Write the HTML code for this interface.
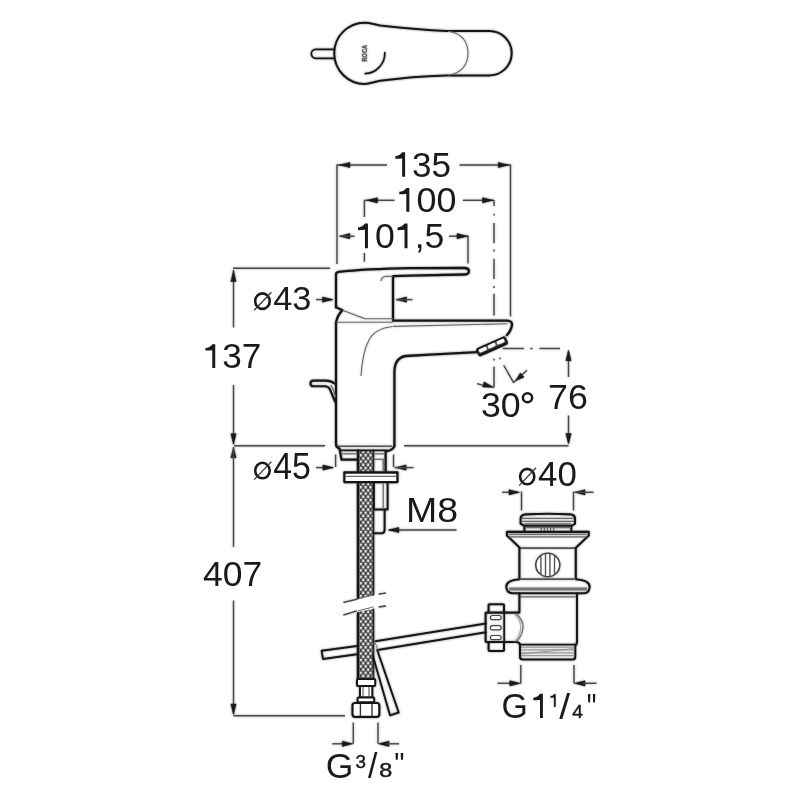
<!DOCTYPE html>
<html><head><meta charset="utf-8"><style>
html,body{margin:0;padding:0;background:#fff;}
svg{display:block;will-change:transform;}
.k{fill:none;stroke:#151515;stroke-width:2.3;stroke-linecap:round;stroke-linejoin:round;}
.d{fill:none;stroke:#484848;stroke-width:1.4;}
.g{fill:none;stroke:#6a6a6a;stroke-width:1.25;}
text{font-family:"Liberation Sans",sans-serif;}
</style></head><body>
<svg width="800" height="800" viewBox="0 0 800 800">
<rect width="800" height="800" fill="#fff"/>
<defs><filter id="halo" x="0" y="0" width="800" height="800" filterUnits="userSpaceOnUse"><feGaussianBlur in="SourceGraphic" stdDeviation="0.9" result="b"/><feComponentTransfer in="b" result="b2"><feFuncA type="linear" slope="0.5"/></feComponentTransfer><feMerge><feMergeNode in="b2"/><feMergeNode in="SourceGraphic"/></feMerge></filter></defs>
<g filter="url(#halo)">
<path d="M334.4,49.3 L315.8,49.3 A4.5,4.5 0 0 0 315.8,58.3 L334.4,58.3" class="k" style="stroke-width:1.7"/>
<path d="M446,31 L489.5,31 A22.2,22.2 0 0 1 489.5,75.4 L446,75.4 C425,76 400,78 380,80.8 C373,82 370,83.9 364.8,83.9 A30.6,30.6 0 0 1 364.8,22.7 C370,22.7 373,24.2 380,25.4 C400,27.6 425,30 446,31 Z" class="k" style="stroke-width:2.0"/>
<path d="M448,31.2 C462,33 468,42 468,53.2 C468,64 462,73.5 448,75.2" class="g" style="stroke-width:1.1"/>
<path d="M384.8,52.6 A20.4,20.4 0 0 1 365.2,73.6" class="k" style="stroke-width:1.7"/>
<text transform="translate(367.3,61.4) rotate(-90)" font-size="8.0" font-weight="bold" fill="#555" stroke="#555" stroke-width="0.35" textLength="16.4" lengthAdjust="spacingAndGlyphs">ROCA</text>
<line x1="337" y1="164.5" x2="337" y2="264" class="d" />
<line x1="510.5" y1="164.5" x2="510.5" y2="316.5" class="d" />
<line x1="337" y1="165" x2="387" y2="165" class="d" />
<line x1="459.5" y1="165" x2="510.5" y2="165" class="d" />
<path d="M339.40,165.00 L349.90,162.40 L349.90,167.60 Z" fill="#1a1a1a" stroke="#1a1a1a" stroke-width="0.6" stroke-linejoin="round"/>
<path d="M508.80,165.00 L498.30,167.60 L498.30,162.40 Z" fill="#1a1a1a" stroke="#1a1a1a" stroke-width="0.6" stroke-linejoin="round"/>
<line x1="364.4" y1="199.9" x2="364.4" y2="217" class="d" />
<line x1="364.4" y1="252.9" x2="364.4" y2="261.6" class="d" />
<line x1="364.5" y1="200.3" x2="394.5" y2="200.3" class="d" />
<line x1="463" y1="200.3" x2="494" y2="200.3" class="d" />
<path d="M366.90,200.30 L377.40,197.70 L377.40,202.90 Z" fill="#1a1a1a" stroke="#1a1a1a" stroke-width="0.6" stroke-linejoin="round"/>
<path d="M493.00,200.30 L482.50,202.90 L482.50,197.70 Z" fill="#1a1a1a" stroke="#1a1a1a" stroke-width="0.6" stroke-linejoin="round"/>
<line x1="494" y1="200" x2="494" y2="206" class="d" />
<line x1="494" y1="213.8" x2="494" y2="215.6" class="d" />
<line x1="494" y1="223.1" x2="494" y2="243.3" class="d" />
<line x1="494" y1="249.6" x2="494" y2="251.6" class="d" />
<line x1="494" y1="258.8" x2="494" y2="279" class="d" />
<line x1="494" y1="286.1" x2="494" y2="288.1" class="d" />
<line x1="494" y1="293.7" x2="494" y2="315.4" class="d" />
<path d="M339.40,236.20 L349.90,233.60 L349.90,238.80 Z" fill="#1a1a1a" stroke="#1a1a1a" stroke-width="0.6" stroke-linejoin="round"/>
<line x1="340" y1="236.2" x2="354.5" y2="236.2" class="d" />
<line x1="449" y1="236.2" x2="468" y2="236.2" class="d" />
<path d="M467.50,236.20 L457.00,238.80 L457.00,233.60 Z" fill="#1a1a1a" stroke="#1a1a1a" stroke-width="0.6" stroke-linejoin="round"/>
<line x1="468" y1="235.6" x2="468" y2="263.5" class="d" />
<line x1="233" y1="268.2" x2="330" y2="268.2" class="d" />
<line x1="233.5" y1="270" x2="233.5" y2="327.5" class="d" />
<path d="M233.50,271.00 L236.10,281.50 L230.90,281.50 Z" fill="#1a1a1a" stroke="#1a1a1a" stroke-width="0.6" stroke-linejoin="round"/>
<line x1="233.5" y1="385" x2="233.5" y2="444" class="d" />
<path d="M233.50,444.30 L230.90,433.80 L236.10,433.80 Z" fill="#1a1a1a" stroke="#1a1a1a" stroke-width="0.6" stroke-linejoin="round"/>
<line x1="234" y1="445.7" x2="325" y2="445.7" class="d" />
<path d="M233.50,447.20 L236.10,457.70 L230.90,457.70 Z" fill="#1a1a1a" stroke="#1a1a1a" stroke-width="0.6" stroke-linejoin="round"/>
<line x1="233.5" y1="447" x2="233.5" y2="547" class="d" />
<line x1="233.5" y1="600.5" x2="233.5" y2="714" class="d" />
<path d="M233.50,714.60 L230.90,704.10 L236.10,704.10 Z" fill="#1a1a1a" stroke="#1a1a1a" stroke-width="0.6" stroke-linejoin="round"/>
<line x1="233.5" y1="715.7" x2="345" y2="715.7" class="d" />
<line x1="316" y1="299.6" x2="332" y2="299.6" class="d" />
<path d="M333.00,299.60 L322.50,302.20 L322.50,297.00 Z" fill="#1a1a1a" stroke="#1a1a1a" stroke-width="0.6" stroke-linejoin="round"/>
<path d="M396.00,299.60 L406.50,297.00 L406.50,302.20 Z" fill="#1a1a1a" stroke="#1a1a1a" stroke-width="0.6" stroke-linejoin="round"/>
<line x1="396" y1="299.6" x2="412.5" y2="299.6" class="d" />
<line x1="316" y1="467.6" x2="333" y2="467.6" class="d" />
<path d="M333.40,467.60 L322.90,470.20 L322.90,465.00 Z" fill="#1a1a1a" stroke="#1a1a1a" stroke-width="0.6" stroke-linejoin="round"/>
<line x1="335.6" y1="454.5" x2="335.6" y2="467" class="d" />
<line x1="393.5" y1="454.5" x2="393.5" y2="467" class="d" />
<path d="M395.60,467.60 L406.10,465.00 L406.10,470.20 Z" fill="#1a1a1a" stroke="#1a1a1a" stroke-width="0.6" stroke-linejoin="round"/>
<line x1="394.5" y1="467.6" x2="413.5" y2="467.6" class="d" />
<line x1="404" y1="445.7" x2="568.5" y2="445.7" class="d" />
<line x1="502.8" y1="348.5" x2="523.9" y2="348.5" class="d" />
<line x1="530.2" y1="348.5" x2="532.6" y2="348.5" class="d" />
<line x1="539.4" y1="348.5" x2="560" y2="348.5" class="d" />
<line x1="568.5" y1="352" x2="568.5" y2="377" class="d" />
<path d="M568.50,350.20 L571.10,360.70 L565.90,360.70 Z" fill="#1a1a1a" stroke="#1a1a1a" stroke-width="0.6" stroke-linejoin="round"/>
<line x1="568.5" y1="415.5" x2="568.5" y2="443" class="d" />
<path d="M568.50,444.00 L565.90,433.50 L571.10,433.50 Z" fill="#1a1a1a" stroke="#1a1a1a" stroke-width="0.6" stroke-linejoin="round"/>
<line x1="494" y1="358.7" x2="494" y2="360.5" class="d" />
<line x1="494" y1="366.6" x2="494" y2="387.4" class="d" />
<line x1="477" y1="383.6" x2="486" y2="386.2" class="d" />
<path d="M493.50,387.30 L482.69,386.99 L484.08,381.98 Z" fill="#1a1a1a" stroke="#1a1a1a" stroke-width="0.6" stroke-linejoin="round"/>
<line x1="499.6" y1="357.6" x2="500.4" y2="359.2" class="d" />
<line x1="503.75" y1="365.25" x2="513.7" y2="382.9" class="d" />
<line x1="513.5" y1="382.5" x2="527" y2="370.3" class="d" />
<path d="M515.80,380.60 L520.38,372.91 L524.05,377.14 Z" fill="#1a1a1a" stroke="#1a1a1a" stroke-width="0.6" stroke-linejoin="round"/>
<line x1="389" y1="530" x2="456.5" y2="530" class="d" />
<path d="M388.30,530.00 L398.80,527.40 L398.80,532.60 Z" fill="#1a1a1a" stroke="#1a1a1a" stroke-width="0.6" stroke-linejoin="round"/>
<line x1="502" y1="492.3" x2="518" y2="492.3" class="d" />
<path d="M519.50,492.30 L509.00,494.90 L509.00,489.70 Z" fill="#1a1a1a" stroke="#1a1a1a" stroke-width="0.6" stroke-linejoin="round"/>
<line x1="521.5" y1="491.5" x2="521.5" y2="510.5" class="d" />
<line x1="573.5" y1="491.5" x2="573.5" y2="510.5" class="d" />
<path d="M574.50,492.30 L585.00,489.70 L585.00,494.90 Z" fill="#1a1a1a" stroke="#1a1a1a" stroke-width="0.6" stroke-linejoin="round"/>
<line x1="575" y1="492.3" x2="593.5" y2="492.3" class="d" />
<line x1="520.8" y1="665" x2="520.8" y2="683.5" class="d" />
<line x1="574" y1="665" x2="574" y2="683.5" class="d" />
<line x1="497.5" y1="683.3" x2="511" y2="683.3" class="d" />
<path d="M520.30,683.30 L509.80,685.90 L509.80,680.70 Z" fill="#1a1a1a" stroke="#1a1a1a" stroke-width="0.6" stroke-linejoin="round"/>
<path d="M574.50,683.30 L585.00,680.70 L585.00,685.90 Z" fill="#1a1a1a" stroke="#1a1a1a" stroke-width="0.6" stroke-linejoin="round"/>
<line x1="583" y1="683.3" x2="596.5" y2="683.3" class="d" />
<line x1="353.3" y1="722.5" x2="353.3" y2="743.8" class="d" />
<line x1="378" y1="722.5" x2="378" y2="743.8" class="d" />
<line x1="332.3" y1="743.8" x2="345" y2="743.8" class="d" />
<path d="M352.80,743.80 L342.30,746.40 L342.30,741.20 Z" fill="#1a1a1a" stroke="#1a1a1a" stroke-width="0.6" stroke-linejoin="round"/>
<path d="M378.50,743.80 L389.00,741.20 L389.00,746.40 Z" fill="#1a1a1a" stroke="#1a1a1a" stroke-width="0.6" stroke-linejoin="round"/>
<line x1="387" y1="743.8" x2="399" y2="743.8" class="d" />
<defs><pattern id="hp" patternUnits="userSpaceOnUse" x="359.5" y="540" width="4.9" height="6.4"><rect width="4.9" height="6.4" fill="#404040"/><rect x="2.6" y="0.3" width="2.2" height="2.6" fill="#f6f6f6"/><rect x="0.15" y="3.5" width="2.2" height="2.6" fill="#f6f6f6"/></pattern></defs>
<path d="M357.8,450.5 L373.8,450.5 L373.8,594.9 L357.8,598.9 Z" fill="url(#hp)"/>
<path d="M357.8,610.8 L373.8,606.9 L373.8,679 L357.8,679 Z" fill="url(#hp)"/>
<line x1="358" y1="450.5" x2="358" y2="598.9" class="k" style="stroke-width:2.4"/>
<line x1="373.4" y1="450.5" x2="373.4" y2="595" class="k" style="stroke-width:1.9;stroke:#2a2a2a"/>
<line x1="358" y1="610.8" x2="358" y2="679" class="k" style="stroke-width:2.4"/>
<line x1="373.4" y1="606.9" x2="373.4" y2="679" class="k" style="stroke-width:1.9;stroke:#2a2a2a"/>
<path d="M357,646 L321.6,650.8 L323,659 L357,654.2" class="k" style="stroke-width:1.9"/>
<path d="M375.5,641.2 L486,623.5 M377.5,650 L486,632.3" class="k" style="stroke-width:1.9"/>
<path d="M372.9,656 L390,715.3 L398.7,712.5 L377.3,650.3" class="k" style="stroke-width:1.9"/>
<path d="M374.5,642.5 Q378,646 377.2,650.5" class="g" style="stroke-width:1"/>
<path d="M340,603.3 L390,592.2 L390,605 L340,616 Z" fill="#fff"/>
<path d="M343.3,602.5 L357,599.2" class="d" style="stroke-width:1.6"/>
<path d="M378.5,594.3 L386,593" class="d" style="stroke-width:1.6"/>
<path d="M343.3,615 L357,610.8" class="d" style="stroke-width:1.6"/>
<path d="M378.5,607 L386,605.9" class="d" style="stroke-width:1.6"/>
<path d="M358,598.9 L373.6,595" class="g" style="stroke-width:1"/>
<path d="M358,610.8 L373.6,606.9" class="g" style="stroke-width:1"/>
<rect x="357" y="679" width="18.2" height="7" rx="1" class="k" style="fill:#fff;stroke-width:2"/>
<rect x="360" y="686" width="12.3" height="11.6" class="k" style="fill:#fff;stroke-width:2"/>
<line x1="363" y1="687" x2="363" y2="696.5" class="g" />
<line x1="369" y1="687" x2="369" y2="696.5" class="g" />
<rect x="357.6" y="697.6" width="16.6" height="4.6" rx="1" class="k" style="fill:#fff;stroke-width:2"/>
<rect x="352.5" y="703" width="26.8" height="13.8" rx="2.5" class="k" style="fill:#fff;stroke-width:2.2"/>
<line x1="360.4" y1="704" x2="360.4" y2="716" class="g" style="stroke:#333;stroke-width:1.4"/>
<line x1="372" y1="704" x2="372" y2="716" class="g" style="stroke:#333;stroke-width:1.4"/>
<path d="M336,307.3 L336,274.5 Q336,272.2 338.6,271.9 C355,270 380,268.6 410,268.1 L464,268 C470.6,268 470.6,274.4 464,274.5 L410,275.6 L393,276.2 L393,320.6 L507,320.6 Q512.4,321 512,325 Q511,331 506.8,335.2" class="k" />
<path d="M336,307.3 L342.6,310.2 Q337.5,315 336,322.5 L336,444 Q336,447.5 339.5,448.5 L341.5,459.6 L357,459.6" class="k" />
<path d="M394.4,446 L394.4,372 Q394.6,357.5 406,356 C430,354.5 460,353.2 477.2,352.2" class="k" />
<path d="M394.4,446 Q393.5,449 389.5,450.5 L385.6,451.5 L385.6,471" class="k" />
<line x1="338" y1="446.2" x2="392" y2="446.2" class="g" style="stroke-width:1.4;stroke:#555"/>
<line x1="340.5" y1="450.4" x2="387.5" y2="450.4" class="k" style="stroke-width:1.7"/>
<line x1="342" y1="453.8" x2="357" y2="453.8" class="g" />
<line x1="374" y1="453.8" x2="385" y2="453.8" class="g" />
<line x1="374" y1="459.3" x2="385" y2="459.3" class="g" />
<line x1="383.2" y1="460" x2="383.2" y2="471" class="g" />
<path d="M342.6,310.2 L364.5,318.6 L393,318.8" class="g" style="stroke-width:1.1"/>
<line x1="336.5" y1="322.2" x2="393" y2="322.2" class="g" style="stroke-width:1.1"/>
<path d="M381,281 Q381.5,276.6 386,276.4 L393,276.4" class="g" />
<path d="M393,326.4 L507.5,323.8" class="g" style="stroke-width:1.1"/>
<path d="M392.5,326.5 Q375,328.5 369,340 Q362.5,352 361,376" class="g" style="stroke-width:1.1"/>
<path d="M334.5,383.5 Q331,380.6 326,380.6 L313.6,380.6 C309.4,380.6 309.4,386.3 313.6,386.3 L325.5,386.3 Q328.6,386.6 330.2,389.8 L335,401.5" class="k" style="stroke-width:2.1"/>
<path d="M330.6,385.2 Q333.6,388.5 335.4,397" class="g" />
<g transform="translate(492,346.3) rotate(-24)"><rect x="-15.4" y="-3.6" width="30.8" height="7.4" rx="1.8" fill="#555" stroke="#151515" stroke-width="1.7"/><line x1="-14.5" y1="2.7" x2="14.5" y2="2.7" stroke="#151515" stroke-width="1.5"/><rect x="-13.8" y="-2.5" width="8.2" height="3.6" rx="1.7" fill="#fcfcfc"/><rect x="-4.1" y="-2.5" width="8.2" height="3.6" rx="1.7" fill="#fcfcfc"/><rect x="5.6" y="-2.5" width="8.2" height="3.6" rx="1.7" fill="#fcfcfc"/></g>
<rect x="344.4" y="472.5" width="53" height="9.6" class="k" style="fill:#fff;stroke-width:2.3"/>
<line x1="346" y1="476.3" x2="396" y2="476.3" class="g" />
<path d="M373.8,482.5 L373.8,509.4 M387.6,482.5 L387.6,509.4 L373.8,509.4" class="k" style="stroke-width:2"/>
<line x1="383.2" y1="483" x2="383.2" y2="509" class="g" />
<path d="M384.6,509.4 L384.6,530 Q384.6,533.2 381.5,533.2 L374,533.2" class="k" style="stroke-width:2"/>
<path d="M520.6,523.8 L520.6,518.5 Q520.8,514.7 526,514.4 Q548,513.2 570,514.4 Q575,514.7 575,518.5 L575,523.8 L571.3,525.8 L524.4,525.8 Z" class="k" style="stroke-width:2.1"/>
<line x1="522" y1="518.4" x2="574" y2="518.4" class="g" />
<line x1="522" y1="521.3" x2="574" y2="521.3" class="g" />
<line x1="524.5" y1="524" x2="571" y2="524" class="g" style="stroke-width:1.6;stroke:#666"/>
<path d="M524.4,525.8 L524.4,531.9 M571.3,525.8 L571.3,531.9" class="k" style="stroke-width:2"/>
<line x1="525" y1="527.6" x2="571" y2="527.6" class="g" />
<line x1="541.3" y1="528" x2="541.3" y2="531.5" class="g" />
<line x1="544.4" y1="528" x2="544.4" y2="531.5" class="g" />
<line x1="547.5" y1="528" x2="547.5" y2="531.5" class="g" />
<line x1="550.6" y1="528" x2="550.6" y2="531.5" class="g" />
<line x1="553.7" y1="528" x2="553.7" y2="531.5" class="g" />
<path d="M520,548.1 L506.9,535.6 L506.9,531.9 L588.8,531.9 L588.8,535.6 L575.6,548.1" class="k" style="stroke-width:2.1"/>
<line x1="520" y1="548.1" x2="575.6" y2="548.1" class="g" style="stroke:#555;stroke-width:1.8"/>
<line x1="509" y1="534.4" x2="586.5" y2="534.4" class="g" />
<line x1="509" y1="536.9" x2="586.5" y2="536.9" class="g" />
<path d="M519.4,548 L519.4,579.2 M575.8,548 L575.8,579.2" class="k" style="stroke-width:2.1"/>
<ellipse cx="547.8" cy="565" rx="12.0" ry="11.7" fill="#fff" stroke="#444" stroke-width="1.6"/>
<line x1="540.9" y1="555.7521306133224" x2="540.9" y2="574.2478693866776" class="g" style="stroke:#555;stroke-width:1.4"/>
<line x1="545.5" y1="553.8186510046961" x2="545.5" y2="576.1813489953039" class="g" style="stroke:#555;stroke-width:1.4"/>
<line x1="549.9" y1="553.7819825485288" x2="549.9" y2="576.2180174514712" class="g" style="stroke:#555;stroke-width:1.4"/>
<line x1="554.5" y1="555.6158747369814" x2="554.5" y2="574.3841252630186" class="g" style="stroke:#555;stroke-width:1.4"/>
<path d="M575.8,579.2 C585,580 589.6,583 589.6,586.5 C589.6,590 588,592.6 585,593.3 L511.9,593.3 C508,592.6 506.3,590 506.3,586.5 C506.3,583 510,580 519.4,579.2" class="k" style="stroke-width:2.1"/>
<line x1="519.4" y1="579.2" x2="575.8" y2="579.2" class="g" style="stroke:#555;stroke-width:1.8"/>
<line x1="509" y1="589" x2="587" y2="589" class="g" style="stroke-width:3.2;stroke:#777"/>
<line x1="519.4" y1="596.9" x2="575.8" y2="596.9" class="g" />
<path d="M519.4,593.3 L519.4,612.6 L504.5,612.6" class="k" style="stroke-width:2.1"/>
<path d="M504.5,642 L517,642 Q520,642.6 520,645.5 L520,657 Q520,659.5 523,659.5 L572.5,659.5 Q575.2,659.5 575.2,657 L575.2,645.5 Q577,644.5 577,642 L577,593.3" class="k" style="stroke-width:2.1"/>
<line x1="520" y1="644.6" x2="576" y2="644.6" class="k" style="stroke-width:1.8"/>
<line x1="521" y1="647.2" x2="574.5" y2="647.2" class="g" style="stroke:#999"/>
<line x1="521" y1="649.8" x2="574.5" y2="649.8" class="g" style="stroke:#999"/>
<line x1="521" y1="654" x2="574.5" y2="648.5" class="g" style="stroke:#999"/>
<line x1="521" y1="652.8" x2="574.5" y2="652.8" class="g" style="stroke:#999"/>
<line x1="521" y1="655.6" x2="574.5" y2="655.6" class="g" style="stroke:#999"/>
<path d="M516.5,614 Q524,621 523,628 Q522,636 516.5,641.5" class="g" />
<path d="M514.5,614 Q521.5,621 520.8,628 Q520,636 514.5,641.5" class="g" style="stroke:#aaa"/>
<path d="M488.6,612.6 L488.6,605.2 Q488.6,604.2 489.6,604.2 L503,604.2 Q504,604.2 504,605.2 L504,612.6 M488.6,642 L488.6,650 Q488.6,651 489.6,651 L503,651 Q504,651 504,650 L504,642 M504.5,612.6 L486.4,612.6 Q485.6,612.6 485.6,613.6 L485.6,641 Q485.6,642 486.4,642 L504.5,642" class="k" style="stroke-width:2.1"/>
<line x1="504.2" y1="612.6" x2="504.2" y2="642" class="k" style="stroke-width:1.8"/>
<rect x="490.4" y="615.5" width="10.8" height="4.2" rx="2.1" fill="#fff" stroke="#444" stroke-width="1.2"/>
<rect x="490.4" y="625.7" width="10.8" height="4.2" rx="2.1" fill="#fff" stroke="#444" stroke-width="1.2"/>
<rect x="490.4" y="635.5" width="10.8" height="4.2" rx="2.1" fill="#fff" stroke="#444" stroke-width="1.2"/>
</g>
<g>
<text transform="translate(392.63,176.85) scale(0.9802,1)" font-size="35.73" fill="#1a1a1a"> 35</text>
<path transform="translate(392.63,176.85) scale(0.01710,-0.01745)" d="M729,0 L556,0 L556,1050 Q380,1030 156,1031 L156,1181 Q420,1200 560,1409 L729,1409 Z" fill="#1a1a1a"/>
<text transform="translate(396.56,211.66) scale(1.0424,1)" font-size="34.46" fill="#1a1a1a"> 00</text>
<path transform="translate(396.56,211.66) scale(0.01754,-0.01683)" d="M729,0 L556,0 L556,1050 Q380,1030 156,1031 L156,1181 Q420,1200 560,1409 L729,1409 Z" fill="#1a1a1a"/>
<text transform="translate(355.29,248.25) scale(0.9914,1)" font-size="35.88" fill="#1a1a1a"> 0 ,5</text>
<path transform="translate(355.29,248.25) scale(0.01737,-0.01752)" d="M729,0 L556,0 L556,1050 Q380,1030 156,1031 L156,1181 Q420,1200 560,1409 L729,1409 Z" fill="#1a1a1a"/>
<path transform="translate(394.85,248.25) scale(0.01737,-0.01752)" d="M729,0 L556,0 L556,1050 Q380,1030 156,1031 L156,1181 Q420,1200 560,1409 L729,1409 Z" fill="#1a1a1a"/>
<text transform="translate(202.72,367.96) scale(1.0158,1)" font-size="34.60" fill="#1a1a1a"> 37</text>
<path transform="translate(202.72,367.96) scale(0.01716,-0.01690)" d="M729,0 L556,0 L556,1050 Q380,1030 156,1031 L156,1181 Q420,1200 560,1409 L729,1409 Z" fill="#1a1a1a"/>
<text transform="translate(202.98,586.06) scale(1.0188,1)" font-size="34.89" fill="#1a1a1a">407</text>
<ellipse cx="262.45" cy="301.15" rx="7.25" ry="7.75" fill="none" stroke="#1a1a1a" stroke-width="2.6"/>
<line x1="254.20" y1="310.20" x2="271.40" y2="292.20" stroke="#3a3a3a" stroke-width="1.3"/>
<text transform="translate(273.21,310.00) scale(1.0140,1)" font-size="33.87" fill="#1a1a1a">43</text>
<ellipse cx="262.45" cy="470.55" rx="7.25" ry="7.75" fill="none" stroke="#1a1a1a" stroke-width="2.6"/>
<line x1="254.20" y1="479.60" x2="271.40" y2="461.60" stroke="#3a3a3a" stroke-width="1.3"/>
<text transform="translate(273.22,479.40) scale(0.9376,1)" font-size="36.05" fill="#1a1a1a">45</text>
<text transform="translate(548.07,409.15) scale(1.0095,1)" font-size="35.45" fill="#1a1a1a">76</text>
<text transform="translate(480.94,417.05) scale(1.0003,1)" font-size="35.73" fill="#1a1a1a">30</text>
<ellipse cx="527.5" cy="397.8" rx="4.6" ry="4.45" fill="none" stroke="#1a1a1a" stroke-width="2.5"/>
<text transform="translate(405.92,522.46) scale(1.0623,1)" font-size="35.31" fill="#1a1a1a">M8</text>
<ellipse cx="527.2" cy="476.6" rx="7.10" ry="7.70" fill="none" stroke="#1a1a1a" stroke-width="2.6"/>
<line x1="519.10" y1="485.60" x2="536.00" y2="467.70" stroke="#3a3a3a" stroke-width="1.3"/>
<text transform="translate(538.00,485.60) scale(0.9989,1)" font-size="34.88" fill="#1a1a1a">40</text>
<text transform="translate(501.40,717.85) scale(0.9473,1)" font-size="35.73" fill="#1a1a1a">G</text>
<path transform="translate(530.69,718.00) scale(0.01675,-0.01725)" d="M729,0 L556,0 L556,1050 Q380,1030 156,1031 L156,1181 Q420,1200 560,1409 L729,1409 Z" fill="#1a1a1a"/>
<path transform="translate(549.11,706.80) scale(0.00890,-0.00894)" d="M729,0 L556,0 L556,1050 Q380,1030 156,1031 L156,1181 Q420,1200 560,1409 L729,1409 Z" fill="#1a1a1a" stroke="#1a1a1a" stroke-width="50.3" stroke-linejoin="round"/>
<text transform="translate(559.30,718.60) scale(1.1192,1)" font-size="35.05" fill="#1a1a1a">/</text>
<text transform="translate(572.15,718.40) scale(1.0619,1)" font-size="18.31" fill="#1a1a1a" stroke="#1a1a1a" stroke-width="0.45">4</text>
<text transform="translate(586.64,720.68) scale(0.7229,1)" font-size="37.91" fill="#1a1a1a">&quot;</text>
<text transform="translate(325.81,777.66) scale(1.0145,1)" font-size="35.03" fill="#1a1a1a">G</text>
<text transform="translate(355.39,767.82) scale(1.0069,1)" font-size="18.64" fill="#1a1a1a" stroke="#1a1a1a" stroke-width="0.45">3</text>
<text transform="translate(367.90,777.60) scale(0.9729,1)" font-size="34.78" fill="#1a1a1a">/</text>
<text transform="translate(379.28,777.41) scale(1.2027,1)" font-size="19.49" fill="#1a1a1a" stroke="#1a1a1a" stroke-width="0.45">8</text>
<text transform="translate(394.17,775.19) scale(0.9467,1)" font-size="30.51" fill="#1a1a1a">&quot;</text>
</g>
</svg>
</body></html>
